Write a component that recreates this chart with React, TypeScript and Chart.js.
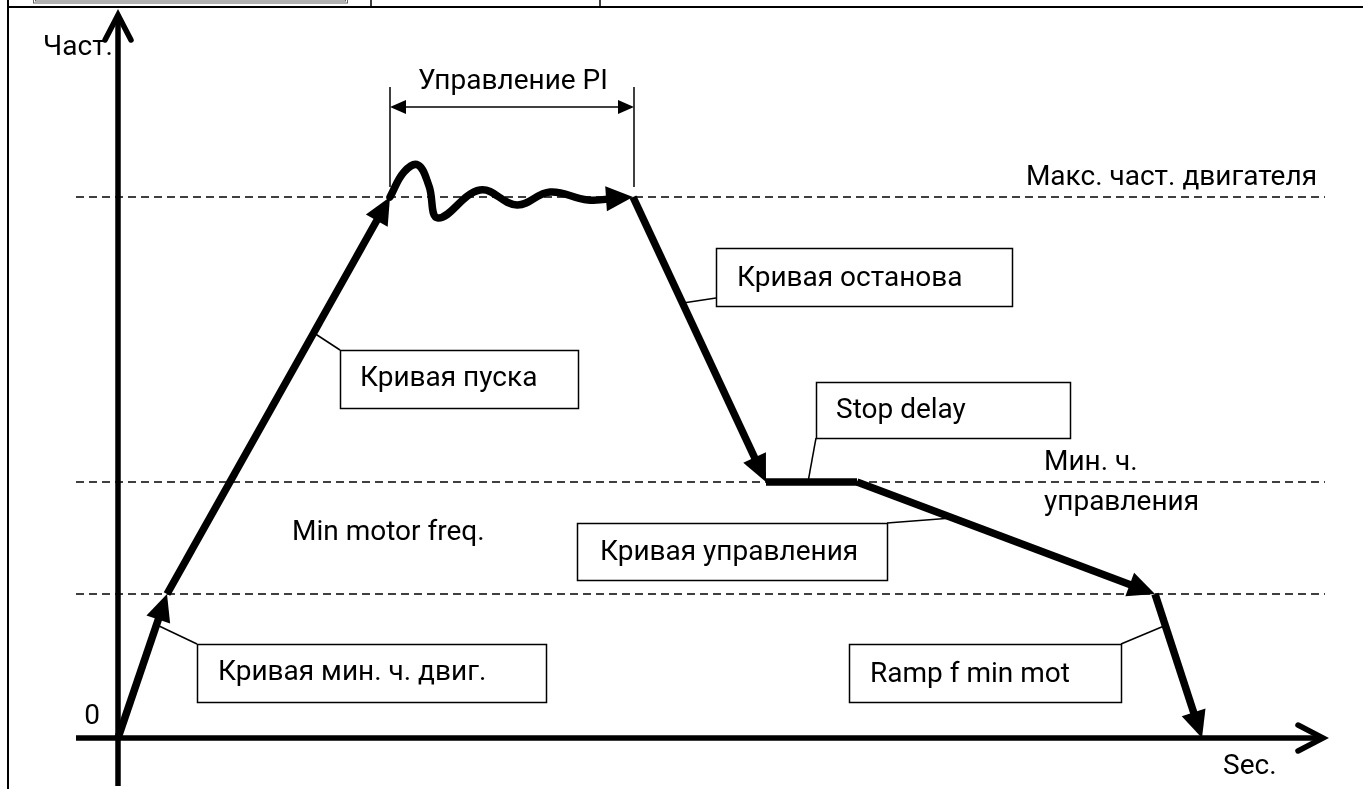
import React, { useEffect, useRef } from "react";
import { Chart, registerables } from "chart.js";

Chart.register(...registerables);

// ---------- data (diagram units: time on x, frequency on y) ----------
const fMaxMotor = 541;
const fMinControl = 256;
const fMinMotor = 144;

const minRampT = [0, 49];
const minRampF = [0, fMinMotor];
const startRampT = [49, 272];
const startRampF = [fMinMotor, fMaxMotor];
const piT = [272, 286, 300, 311, 320, 362, 399, 432, 470, 515];
const piF = [541, 566, 573, 552, 520, 548, 533, 546, 538, 541];
const stopRampT = [515, 648];
const stopRampF = [fMaxMotor, fMinControl];
const delayT = [648, 739];
const delayF = [fMinControl, fMinControl];
const ctrlRampT = [739, 1037];
const ctrlRampF = [fMinControl, fMinMotor];
const finalRampT = [1037, 1084];
const finalRampF = [fMinMotor, 0];

const timeAxisT = [-42, 1205];
const freqAxisF = [-48, 723];
const levelValues = [fMaxMotor, fMinControl, fMinMotor];
const levelLineT = [-42, 1207];
const piSpanT = [272, 516];
const piSpanF = 631;
const piTickF = [551, 651];

// ---------- texts ----------
const freqAxisLabel = "Част.";
const timeAxisLabel = "Sec.";
const originLabel = "0";
const piLabel = "Управление PI";
const levelLabels = ["Макс. част. двигателя", "Мин. ч.", "управления", "Min motor freq."];
const calloutTexts = [
  "Кривая мин. ч. двиг.",
  "Кривая пуска",
  "Кривая останова",
  "Stop delay",
  "Кривая управления",
  "Ramp f min mot",
];

// ---------- layout of annotations (in diagram units) ----------
const callouts = [
  { box: [79, 94, 428, 36], textAt: [100, 65], leader: [[39, 113], [79, 94]] },
  { box: [222, 388, 460, 330], textAt: [242, 359], leader: [[196, 405], [222, 388]] },
  { box: [598, 490, 894, 432], textAt: [619, 459], leader: [[565, 435], [598, 440]] },
  { box: [698, 356, 952, 300], textAt: [718, 327], leader: [[690, 256], [698, 300]] },
  { box: [459, 215, 769, 158], textAt: [482, 185], leader: [[834, 220], [769, 215]] },
  { box: [731, 94, 1003, 36], textAt: [752, 63], leader: [[1046, 112], [1003, 94]] },
];

const FONT_FAMILY = "Roboto, 'Open Sans', sans-serif";
const FONT_SIZE = 28;

const pts = (t: number[], f: number[]) => t.map((v, i) => ({ x: v, y: f[i] }));

const CURVE_W = 7.5;
const HEAD = { len: 27, hw: 12.5 };
const SMALL_HEAD = { len: 16, hw: 7 };
const CHEVRON = { len: 25, hw: 13 };

function buildDatasets(): any[] {
  const base = {
    borderColor: "#000",
    backgroundColor: "#000",
    pointRadius: 0,
    showLine: true,
    fill: false,
    borderCapStyle: "butt",
    borderJoinStyle: "round",
    tension: 0,
  };
  const ds: any[] = [];
  ds.push({ ...base, data: pts(timeAxisT, [0, 0]), borderWidth: 5.5, chevron: CHEVRON });
  ds.push({ ...base, data: pts([0, 0], freqAxisF), borderWidth: 5.5, chevron: CHEVRON });
  levelValues.forEach((v) => {
    ds.push({ ...base, data: pts(levelLineT, [v, v]), borderWidth: 1.4, borderDash: [8, 5] });
  });
  ds.push({ ...base, data: pts(minRampT, minRampF), borderWidth: CURVE_W, arrow: HEAD });
  ds.push({ ...base, data: pts(startRampT, startRampF), borderWidth: CURVE_W, arrow: HEAD });
  ds.push({ ...base, data: pts(piT, piF), borderWidth: CURVE_W, tension: 0.4, borderCapStyle: "round", arrow: HEAD });
  ds.push({ ...base, data: pts(stopRampT, stopRampF), borderWidth: CURVE_W, arrow: HEAD });
  ds.push({ ...base, data: pts(delayT, delayF), borderWidth: CURVE_W });
  ds.push({ ...base, data: pts(ctrlRampT, ctrlRampF), borderWidth: CURVE_W, arrow: HEAD });
  ds.push({ ...base, data: pts(finalRampT, finalRampF), borderWidth: CURVE_W, arrow: HEAD });
  ds.push({ ...base, data: pts(piSpanT, [piSpanF, piSpanF]), borderWidth: 1.5, arrow: SMALL_HEAD, arrowStart: SMALL_HEAD });
  ds.push({ ...base, data: pts([piSpanT[0], piSpanT[0]], piTickF), borderWidth: 1.5 });
  ds.push({ ...base, data: pts([piSpanT[1], piSpanT[1]], piTickF), borderWidth: 1.5 });
  return ds;
}

const stored: Record<number, any> = {};

function pullBack(el: any, towards: { x: number; y: number }, dist: number) {
  const dx = towards.x - el.x;
  const dy = towards.y - el.y;
  const L = Math.hypot(dx, dy) || 1;
  el.x += (dx / L) * dist;
  el.y += (dy / L) * dist;
}

function drawHead(ctx: CanvasRenderingContext2D, from: any, tip: any, h: any) {
  const a = Math.atan2(tip.y - from.y, tip.x - from.x);
  const c = Math.cos(a), s = Math.sin(a);
  const bx = tip.x - c * h.len, by = tip.y - s * h.len;
  ctx.beginPath();
  ctx.moveTo(tip.x, tip.y);
  ctx.lineTo(bx - s * h.hw, by + c * h.hw);
  ctx.lineTo(bx + s * h.hw, by - c * h.hw);
  ctx.closePath();
  ctx.fill();
}

function drawChevron(ctx: CanvasRenderingContext2D, from: any, tip: any, h: any, w: number) {
  const a = Math.atan2(tip.y - from.y, tip.x - from.x);
  const c = Math.cos(a), s = Math.sin(a);
  const bx = tip.x - c * h.len, by = tip.y - s * h.len;
  ctx.save();
  ctx.lineWidth = w;
  ctx.lineCap = "round";
  ctx.lineJoin = "miter";
  ctx.beginPath();
  ctx.moveTo(bx - s * h.hw, by + c * h.hw);
  ctx.lineTo(tip.x, tip.y);
  ctx.lineTo(bx + s * h.hw, by - c * h.hw);
  ctx.stroke();
  ctx.restore();
}

const decorPlugin = {
  id: "diagramDecor",
  afterDatasetsUpdate(chart: any) {
    chart.data.datasets.forEach((ds: any, i: number) => {
      const meta = chart.getDatasetMeta(i);
      const p = meta.data;
      const n = p.length;
      const st: any = {};
      const first = { x: p[0].x, y: p[0].y };
      const second = { x: p[1].x, y: p[1].y };
      const last = { x: p[n - 1].x, y: p[n - 1].y };
      const prev = { x: p[n - 2].x, y: p[n - 2].y };
      if (ds.arrow) st.end = { from: prev, tip: last, h: ds.arrow };
      if (ds.arrowStart) st.start = { from: second, tip: first, h: ds.arrowStart };
      if (ds.chevron) st.chev = { from: prev, tip: last, h: ds.chevron, w: ds.borderWidth };
      if (ds.arrow) pullBack(p[n - 1], prev, ds.arrow.len * 0.5);
      if (ds.arrowStart) pullBack(p[0], second, ds.arrowStart.len * 0.5);
      stored[i] = st;
    });
  },
  afterDatasetsDraw(chart: any) {
    const ctx: CanvasRenderingContext2D = chart.ctx;
    const xs = chart.scales.x;
    const ys = chart.scales.y;
    const X = (v: number) => xs.getPixelForValue(v);
    const Y = (v: number) => ys.getPixelForValue(v);
    ctx.save();
    ctx.fillStyle = "#000";
    ctx.strokeStyle = "#000";

    Object.values(stored).forEach((st: any) => {
      if (st.end) drawHead(ctx, st.end.from, st.end.tip, st.end.h);
      if (st.start) drawHead(ctx, st.start.from, st.start.tip, st.start.h);
      if (st.chev) drawChevron(ctx, st.chev.from, st.chev.tip, st.chev.h, st.chev.w);
    });

    ctx.font = `${FONT_SIZE}px ${FONT_FAMILY}`;
    ctx.textBaseline = "middle";

    // callouts
    callouts.forEach((c, i) => {
      ctx.lineWidth = 1.5;
      ctx.beginPath();
      ctx.moveTo(X(c.leader[0][0]), Y(c.leader[0][1]));
      ctx.lineTo(X(c.leader[1][0]), Y(c.leader[1][1]));
      ctx.stroke();
      const x0 = X(c.box[0]), y0 = Y(c.box[1]), x1 = X(c.box[2]), y1 = Y(c.box[3]);
      ctx.fillStyle = "#fff";
      ctx.fillRect(x0, y0, x1 - x0, y1 - y0);
      ctx.fillStyle = "#000";
      ctx.lineWidth = 1.5;
      ctx.strokeRect(Math.round(x0) + 0.5, Math.round(y0) + 0.5, Math.round(x1 - x0), Math.round(y1 - y0));
      ctx.textAlign = "left";
      ctx.fillText(calloutTexts[i], X(c.textAt[0]), Y(c.textAt[1]));
    });

    // plain labels
    ctx.textAlign = "right";
    ctx.fillText(freqAxisLabel, X(-5), Y(690));
    ctx.fillText(levelLabels[0], X(1199), Y(560));
    ctx.textAlign = "left";
    ctx.fillText(levelLabels[1], X(926), Y(275));
    ctx.fillText(levelLabels[2], X(926), Y(235));
    ctx.fillText(levelLabels[3], X(174), Y(205));
    ctx.fillText(timeAxisLabel, X(1105), Y(-29));
    ctx.textAlign = "center";
    ctx.fillText(originLabel, X(-26), Y(21));
    ctx.fillText(piLabel, X(395), Y(656));

    // page frame (table border around the figure)
    ctx.lineWidth = 2;
    ctx.beginPath();
    ctx.moveTo(8, 0);
    ctx.lineTo(8, chart.height);
    ctx.moveTo(8, 7);
    ctx.lineTo(chart.width, 7);
    ctx.stroke();
    ctx.lineWidth = 1.5;
    ctx.beginPath();
    ctx.moveTo(371, 0);
    ctx.lineTo(371, 7);
    ctx.moveTo(600, 0);
    ctx.lineTo(600, 7);
    ctx.stroke();
    ctx.strokeStyle = "#666";
    ctx.lineWidth = 1;
    ctx.strokeRect(33.5, -5, 314, 8);
    ctx.strokeRect(35.5, -5, 310, 6);
    ctx.restore();
  },
};

export default function App() {
  const ref = useRef<HTMLCanvasElement | null>(null);
  useEffect(() => {
    if (!ref.current) return;
    const chart = new Chart(ref.current, {
      type: "scatter",
      data: { datasets: buildDatasets() },
      options: {
        responsive: false,
        animation: false,
        events: [],
        layout: { padding: 0 },
        plugins: { legend: { display: false }, tooltip: { enabled: false } },
        scales: {
          x: { type: "linear", min: -118, max: 1245, display: false },
          y: { type: "linear", min: -51, max: 738, display: false },
        },
      },
      plugins: [decorPlugin as any],
    } as any);
    return () => chart.destroy();
  }, []);
  return (
    <div style={{ position: "absolute", left: 0, top: 0, width: 1363, height: 789, background: "#fff" }}>
      <canvas ref={ref} width={1363} height={789} style={{ display: "block" }} />
    </div>
  );
}
